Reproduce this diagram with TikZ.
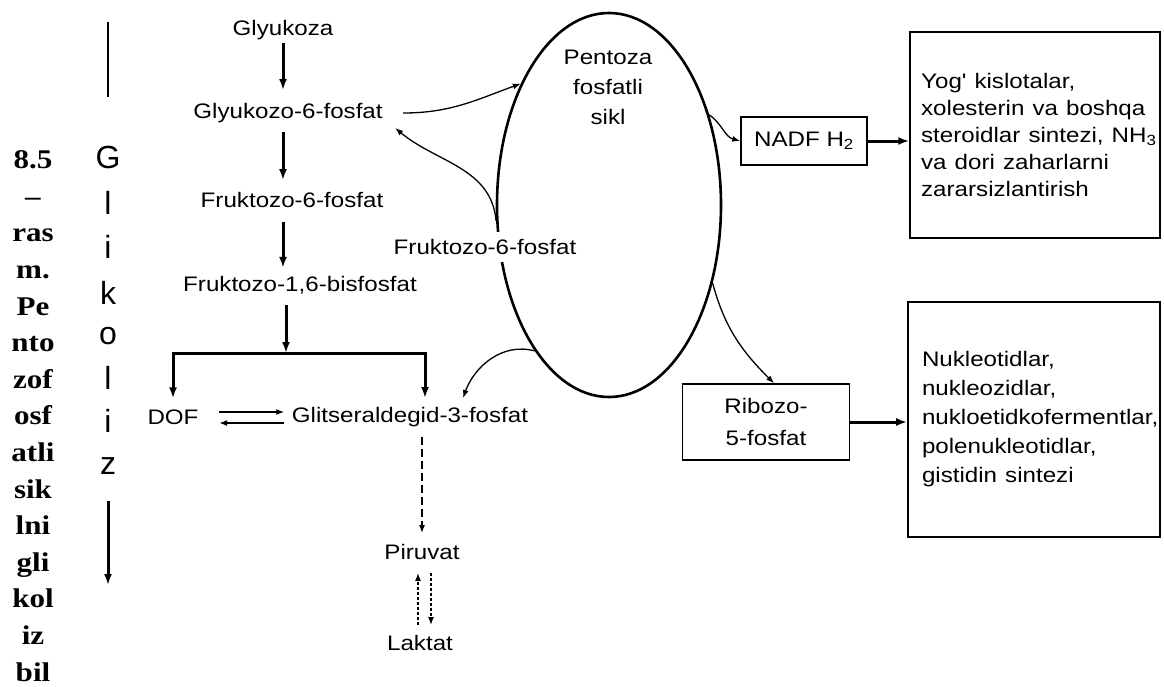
\documentclass[tikz,border=0pt]{standalone}
\usepackage{fontspec}
\setmainfont{Liberation Sans}[Ligatures=TeXOff]
\newfontfamily\capserif{Liberation Serif}
\usetikzlibrary{arrows.meta,shapes.geometric}

\begin{document}
\begin{tikzpicture}[>={Latex[length=8pt,width=6pt]}, x=1pt, y=1pt,
	lbl/.style={font=\fontsize{21}{27}\selectfont, xscale=1.15, inner sep=2pt},
	main/.style={-{Latex[length=11pt,width=8pt]}, line width=3pt},
	side/.style={->, line width=1.3pt},
	box/.style={draw, line width=1.4pt}]
	\useasboundingbox (0,0) rectangle (1164,-686);
%	\draw [help lines] (0,0) grid[step=50] (1164,-686);
	%Sarlavha
	\node[font=\capserif\bfseries\fontsize{27}{36.6}\selectfont, align=center, xscale=1.15] (cap) at (33,-416)
		{8.5\\–\\ras\\m.\\Pe\\nto\\zof\\osf\\atli\\sik\\lni\\gli\\kol\\iz\\bil};
	%Glikoliz
	\foreach \ch/\yy [count=\i] in {G/157,l/203,i/247,k/293,o/336,l/378,i/421,z/466}
		\node[font=\fontsize{32}{32}\selectfont, inner sep=1pt] (gl\i) at (108,-\yy) {\ch};
	\coordinate (gtop) at (108,-22);
	\coordinate (gend) at (108,-585);
	\draw [line width=2.6pt, shorten >=47pt] (gtop) -- (gl1.north);
	\draw [main, shorten <=25pt] (gl8.south) -- (gend);
	%Glikoliz bosqichlari
	\node[lbl] (glu) at (283,-30) {Glyukoza};
	\node[lbl] (g6f) at (288,-113) {Glyukozo-6-fosfat};
	\node[lbl] (f6f) at (292,-200) {Fruktozo-6-fosfat};
	\node[lbl] (fbf) at (300,-285) {Fruktozo-1,6-bisfosfat};
	\node[lbl] (dof) at (173,-417) {DOF};
	\node[lbl] (gap) at (410,-417) {Glitseraldegid-3-fosfat};
	\node[lbl] (pir) at (422,-552) {Piruvat};
	\node[lbl] (lak) at (420,-643) {Laktat};
	\draw [main, shorten <=1pt, shorten >=11pt] (glu.south) -- (glu.south |- g6f.north);
	\draw [main, shorten <=7pt, shorten >=10pt] (g6f.south -| glu) -- (glu |- f6f.north);
	\draw [main, shorten <=12pt, shorten >=6pt] (f6f.south -| glu) -- (glu |- fbf.north);
	%Ayrilish
	\coordinate (br) at (286,-353);
	\draw [main, shorten <=9pt] (fbf.south -| br) -- (br);
	\draw [main, shorten >=9pt] (br) -| (dof.north);
	\draw [main, shorten >=7pt] (br) -| ([xshift=15pt]gap.north);
	\draw [->, line width=2.4pt, shorten <=18pt, shorten >=5pt] ([yshift=5pt]dof.east) -- ([yshift=5pt]gap.west);
	\draw [->, line width=2.4pt, shorten <=5pt, shorten >=18pt] ([yshift=-6pt]gap.west) -- ([yshift=-6pt]dof.east);
	\draw [->, line width=1.8pt, dash pattern=on 8pt off 4pt, shorten <=8pt, shorten >=9pt] (gap.south -| pir.north) -- (pir.north);
	\draw [->, line width=1.4pt, densely dashed, shorten <=8pt, shorten >=11pt] ([xshift=-4pt]pir.south |- lak.north) -- ([xshift=-4pt]pir.south);
	\draw [->, line width=1.4pt, densely dashed, shorten <=11pt, shorten >=8pt] ([xshift=9pt]pir.south) -- ([xshift=9pt]pir.south |- lak.north);
	%Pentoza fosfatli sikl
	\node[draw, ellipse, line width=2.6pt, minimum width=224pt, minimum height=384pt, inner sep=0pt] (pfs) at (609,-205) {};
	\node[lbl, align=center, font=\fontsize{21}{30}\selectfont] (pfst) at (608,-87) {Pentoza\\fosfatli\\sikl};
	\node[lbl, fill=white, inner ysep=7pt] (f6fb) at (485,-247) {Fruktozo-6-fosfat};
	%Mahsulotlar
	\node[box, lbl, minimum width=109.6pt, minimum height=48pt] (nadf) at (804,-141) {NADF H\textsubscript{2}};
	\node[box, lbl, minimum width=145.2pt, minimum height=76pt, align=center, font=\fontsize{21}{32}\selectfont] (rib) at (766,-422) {Ribozo-\\5-fosfat};
	\node[box, lbl, align=left, text width=198pt, inner xsep=9.6pt, minimum height=206pt] (syn1) at (1035,-135)
		{Yog' kislotalar,\\xolesterin va boshqa\\\mbox{steroidlar sintezi, NH\textsubscript{3}}\\va dori zaharlarni\\zararsizlantirish};
	\node[box, lbl, align=left, text width=194.8pt, inner xsep=12.2pt, minimum height=235pt, font=\fontsize{21}{29}\selectfont] (syn2) at (1034,-419.5)
		{Nukleotidlar,\\nukleozidlar,\\nukloetidkofermentlar,\\polenukleotidlar,\\gistidin sintezi};
	%Bog'lanishlar
	\draw [side] ([xshift=18pt]g6f.east) to[out=0, in=200] (pfs.126);
	\draw [side] (pfs.188) to[out=95, in=-40] ([xshift=10pt,yshift=-3pt]g6f.south east);
	\draw [side] (pfs.243) to[out=165, in=70] ([xshift=53pt,yshift=7pt]gap.north);
	\draw [side] (pfs.42) to[out=-35, in=165] (nadf.west);
	\draw [side] (pfs.-37) to[out=-75, in=135] ([xshift=8pt]rib.north);
	\draw [main] (nadf.east) -- (nadf.east -| syn1.west);
	\draw [main] (rib.east) -- (rib.east -| syn2.west);
\end{tikzpicture}
\end{document}
